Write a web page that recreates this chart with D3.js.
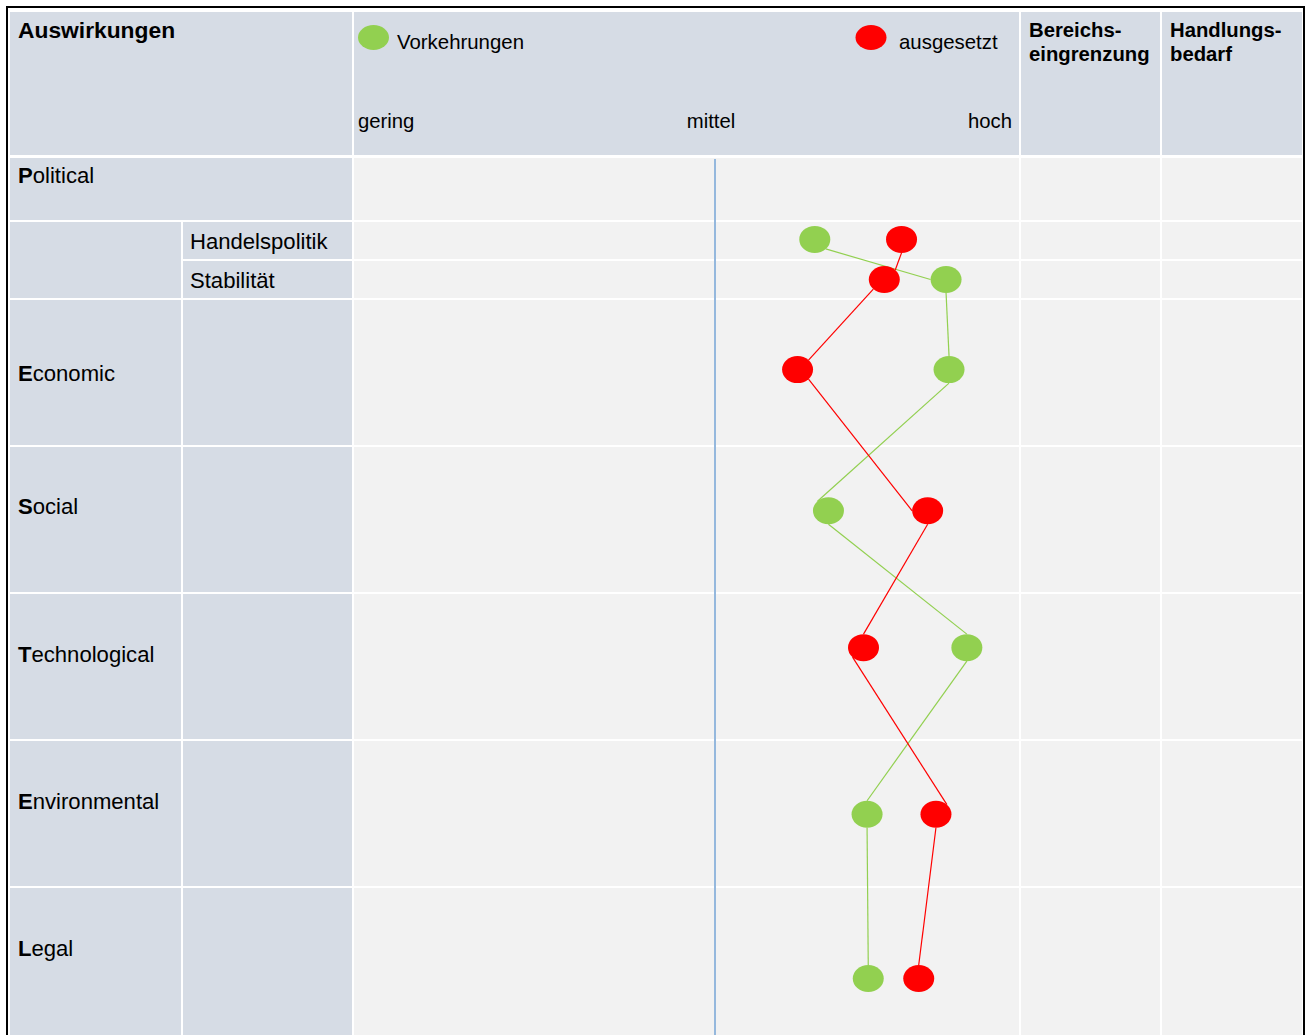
<!DOCTYPE html>
<html>
<head>
<meta charset="utf-8">
<script src="https://cdn.jsdelivr.net/npm/d3@7"></script>
<style>
  html, body { margin: 0; padding: 0; background: #ffffff; }
  svg { display: block; }
  text { font-family: "Liberation Sans", Arial, Helvetica, sans-serif; fill: #000; }
</style>
</head>
<body>
<svg id="chart" width="1306" height="1035"></svg>
<script>
// ---------------- DATA ----------------
const mainCategories = ["Political", "Economic", "Social", "Technological", "Environmental", "Legal"];
const subCategories = ["Handelspolitik", "Stabilität"];
const pointRows = ["Handelspolitik", "Stabilität", "Economic", "Social", "Technological", "Environmental", "Legal"];
const seriesNames = ["Vorkehrungen", "ausgesetzt"];
const vorkehrungen = [6.68, 8.89, 8.94, 6.91, 9.24, 7.56, 7.58];
const ausgesetzt   = [8.14, 7.85, 6.39, 8.58, 7.50, 8.72, 8.43];
// vertical placement of the points inside their row (0 = top, 1 = bottom)
const rowLevel = [0.47, 0.50, 0.48, 0.44, 0.37, 0.505, 0.62];
const levelTicks = ["gering", "mittel", "hoch"];
const levelTickValues = [0, 5, 10];
const headerTitle = "Auswirkungen";
const extraHeaders = [["Bereichs-", "eingrenzung"], ["Handlungs-", "bedarf"]];

// ---------------- LAYOUT ----------------
const svg = d3.select("#chart");
const cellDark = "#d6dce5";
const cellLight = "#f2f2f2";
const green = "#92d050";
const red = "#ff0000";

const cols = {
  c1: [10, 181], c2: [183, 352], plot: [354, 1019], ber: [1021, 1160], hand: [1162, 1302]
};
const rows = {
  header: [12, 155],
  Political: [158, 220],
  Handelspolitik: [222, 259],
  "Stabilität": [261, 298],
  Economic: [300, 445],
  Social: [447, 592],
  Technological: [594, 739],
  Environmental: [741, 886],
  Legal: [888, 1045]
};

function cell(x0, x1, y0, y1, fill) {
  svg.append("rect")
    .attr("x", x0).attr("y", y0)
    .attr("width", x1 - x0).attr("height", y1 - y0)
    .attr("fill", fill);
}

// header row
cell(cols.c1[0], cols.c2[1], rows.header[0], rows.header[1], cellDark);
cell(cols.plot[0], cols.plot[1], rows.header[0], rows.header[1], cellDark);
cell(cols.ber[0], cols.ber[1], rows.header[0], rows.header[1], cellDark);
cell(cols.hand[0], cols.hand[1], rows.header[0], rows.header[1], cellDark);

// Political row
cell(cols.c1[0], cols.c2[1], rows.Political[0], rows.Political[1], cellDark);
["plot", "ber", "hand"].forEach(c => cell(cols[c][0], cols[c][1], rows.Political[0], rows.Political[1], cellLight));

// Sub rows
cell(cols.c1[0], cols.c1[1], rows.Handelspolitik[0], rows["Stabilität"][1], cellDark);
subCategories.forEach(s => {
  cell(cols.c2[0], cols.c2[1], rows[s][0], rows[s][1], cellDark);
  ["plot", "ber", "hand"].forEach(c => cell(cols[c][0], cols[c][1], rows[s][0], rows[s][1], cellLight));
});

// Main rows
mainCategories.slice(1).forEach(m => {
  cell(cols.c1[0], cols.c1[1], rows[m][0], rows[m][1], cellDark);
  cell(cols.c2[0], cols.c2[1], rows[m][0], rows[m][1], cellDark);
  ["plot", "ber", "hand"].forEach(c => cell(cols[c][0], cols[c][1], rows[m][0], rows[m][1], cellLight));
});

// outer border
svg.append("rect")
  .attr("x", 7).attr("y", 7).attr("width", 1297).attr("height", 1050)
  .attr("fill", "none").attr("stroke", "#000").attr("stroke-width", 2);

// ---------------- SCALES ----------------
const x = d3.scaleLinear().domain(levelTickValues).range([358, 715, 1012]);
function yOf(rowName, level) {
  const r = rows[rowName];
  const h = rowName === "Legal" ? 146 : (r[1] - r[0]);
  return d3.scaleLinear().domain([0, 1]).range([r[0], r[0] + h])(level);
}

// mittel reference line
svg.append("line")
  .attr("x1", x(5)).attr("x2", x(5))
  .attr("y1", rows.Political[0] + 1).attr("y2", 1035)
  .attr("stroke", "#95b8dd").attr("stroke-width", 2);

// ---------------- TEXT ----------------
svg.append("text").attr("x", 18).attr("y", 38)
  .attr("font-size", 22.8).attr("font-weight", "bold").text(headerTitle);

extraHeaders.forEach((lines, i) => {
  const cx = (i === 0 ? cols.ber[0] : cols.hand[0]) + 8;
  const t = svg.append("text").attr("x", cx).attr("y", 37)
    .attr("font-size", 20.3).attr("font-weight", "bold");
  lines.forEach((ln, j) => t.append("tspan").attr("x", cx).attr("dy", j === 0 ? 0 : 24).text(ln));
});

// axis tick labels
const tickAnchors = ["start", "middle", "end"];
levelTicks.forEach((t, i) => {
  svg.append("text")
    .attr("x", x(levelTickValues[i]) + (i === 1 ? -4 : 0))
    .attr("y", 128)
    .attr("font-size", 20.3)
    .attr("text-anchor", tickAnchors[i])
    .text(t);
});

// legend
const legendPos = [{ex: 373.5, tx: 397}, {ex: 871, tx: 899}];
seriesNames.forEach((s, i) => {
  svg.append("ellipse").attr("cx", legendPos[i].ex).attr("cy", 37.5)
    .attr("rx", 15.5).attr("ry", 12.5).attr("fill", i === 0 ? green : red);
  svg.append("text").attr("x", legendPos[i].tx).attr("y", 48.5)
    .attr("font-size", 20.4).text(s);
});

// row labels (first letter bold)
function rowLabel(name, xPos, yPos) {
  const t = svg.append("text").attr("x", xPos).attr("y", yPos).attr("font-size", 22.1);
  t.append("tspan").attr("font-weight", "bold").text(name[0]);
  t.append("tspan").text(name.slice(1));
}
const labelBase = { Political: 183, Economic: 381, Social: 514, Technological: 662, Environmental: 809, Legal: 956 };
mainCategories.forEach(m => rowLabel(m, 18, labelBase[m]));
subCategories.forEach(s => {
  svg.append("text").attr("x", 190).attr("y", (rows[s][0] + rows[s][1]) / 2 + 8)
    .attr("font-size", 22.1).text(s);
});

// ---------------- SERIES ----------------
const RX = 15.5, RY = 13.5;
const k = Math.SQRT1_2;
// connector attachment sites on the ellipses (like slide connectors)
const site = {
  N: [0, -1], S: [0, 1], W: [-1, 0], E: [1, 0],
  NE: [k, -k], NW: [-k, -k], SE: [k, k], SW: [-k, k]
};
const series = [
  {name: seriesNames[0], values: vorkehrungen, color: green,
   sites: [["SE", "W"], ["S", "N"], ["S", "NW"], ["S", "N"], ["S", "N"], ["S", "N"]]},
  {name: seriesNames[1], values: ausgesetzt, color: red,
   sites: [["S", "NE"], ["SW", "NE"], ["SE", "W"], ["S", "N"], ["SW", "NE"], ["S", "N"]]}
];

series.forEach(s => {
  const centers = s.values.map((v, i) => [x(v), yOf(pointRows[i], rowLevel[i])]);
  const g = svg.append("g");
  centers.slice(0, -1).forEach((c, i) => {
    const a = site[s.sites[i][0]], b = site[s.sites[i][1]];
    const n = centers[i + 1];
    g.append("line")
      .attr("x1", c[0] + a[0] * RX).attr("y1", c[1] + a[1] * RY)
      .attr("x2", n[0] + b[0] * RX).attr("y2", n[1] + b[1] * RY)
      .attr("stroke", s.color).attr("stroke-width", 1.2);
  });
});
series.forEach(s => {
  svg.append("g").selectAll("ellipse")
    .data(s.values)
    .join("ellipse")
    .attr("cx", v => x(v))
    .attr("cy", (v, i) => yOf(pointRows[i], rowLevel[i]))
    .attr("rx", RX).attr("ry", RY)
    .attr("fill", s.color);
});
</script>
</body>
</html>
